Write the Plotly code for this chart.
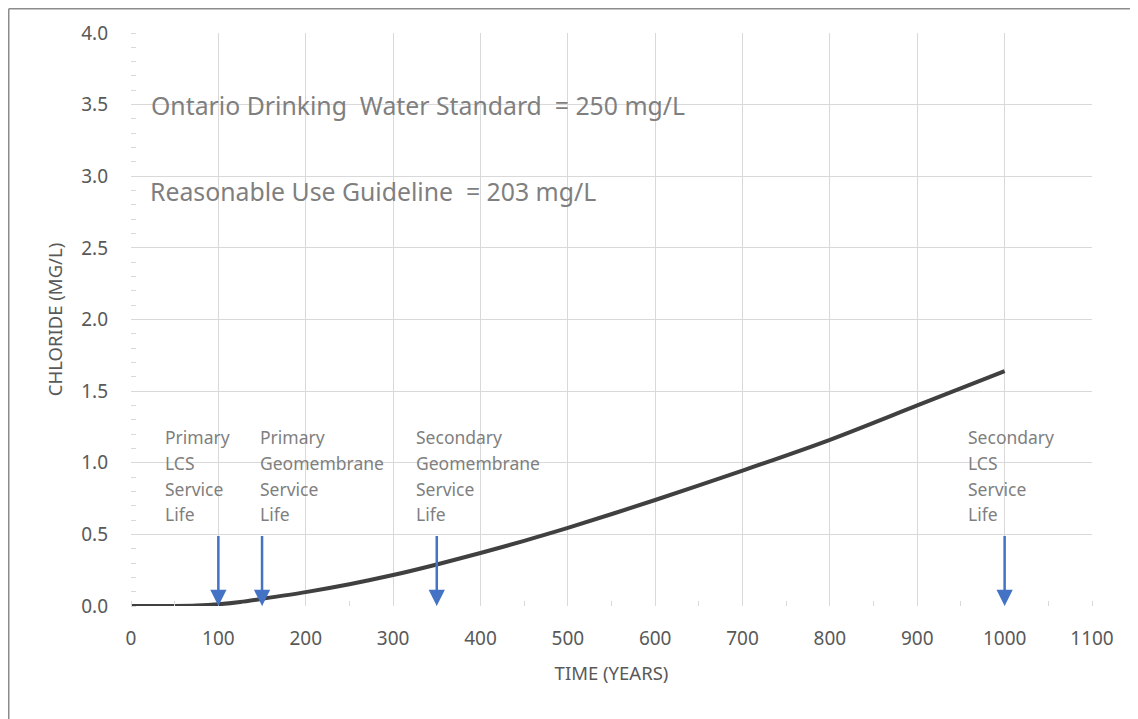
import plotly.graph_objects as go

# ---- data ----
years = [0, 25, 50, 75, 100, 125, 150, 200, 250, 300, 350, 400, 450, 500, 600, 700, 800, 900, 1000]
chloride = [0.0, 0.0, 0.0, 0.003, 0.012, 0.028, 0.05, 0.097, 0.152, 0.216, 0.29, 0.37, 0.455, 0.545, 0.74, 0.945, 1.16, 1.40, 1.64]

arrow_years = [100, 150, 350, 1000]
arrow_top = 0.5
arrow_tip = 0.0
label_lines = [
    ["Primary", "LCS", "Service", "Life"],
    ["Primary", "Geomembrane", "Service", "Life"],
    ["Secondary", "Geomembrane", "Service", "Life"],
    ["Secondary", "LCS", "Service", "Life"],
]
label_x = [37, 145, 324, 956]
line_y = [1.18, 1.0, 0.82, 0.64]

standard_texts = ["Ontario Drinking  Water Standard  = 250 mg/L",
                  "Reasonable Use Guideline  = 203 mg/L"]
standard_pos = [(21, 3.5), (19, 2.9)]

x_ticks = list(range(0, 1101, 100))
y_ticks = [0.0, 0.5, 1.0, 1.5, 2.0, 2.5, 3.0, 3.5, 4.0]

FONT = "Noto Sans"
GRID = "#d9d9d9"
TXT = "#7f7f7f"
TICK = "#595959"
BLUE = "#4472c4"

fig = go.Figure()
fig.add_trace(go.Scatter(x=years, y=chloride, mode="lines",
                         line=dict(color="#404040", width=4, shape="spline", smoothing=0.8),
                         hoverinfo="skip", showlegend=False))

ann = []
for ay, lines, lx in zip(arrow_years, label_lines, label_x):
    ann.append(dict(x=ay, y=arrow_tip, ax=ay, ay=arrow_top, xref="x", yref="y",
                    axref="x", ayref="y", text="", showarrow=True,
                    arrowhead=2, arrowsize=1.3, arrowwidth=2.5, arrowcolor=BLUE, standoff=0))
    for t, yy in zip(lines, line_y):
        ann.append(dict(x=lx, y=yy, xref="x", yref="y", text=t, showarrow=False,
                        xanchor="left", yanchor="middle",
                        font=dict(family=FONT, size=17.5, color=TXT)))
for t, (px, py) in zip(standard_texts, standard_pos):
    ann.append(dict(x=px, y=py, xref="x", yref="y", text=t, showarrow=False,
                    xanchor="left", yanchor="middle",
                    font=dict(family=FONT, size=24.8, color=TXT)))

# page body has an 8px margin; figure sized to the visible window
W, H = 1130, 711
L, R, T, B = 123, 46, 25, 113
pw, ph = W - L - R, H - T - B
bx = (0.75 - L) / pw
by = 1 + (T - 0.75) / ph

fig.update_layout(
    width=W, height=H,
    margin=dict(l=L, r=R, t=T, b=B),
    paper_bgcolor="white", plot_bgcolor="white",
    annotations=ann,
    shapes=[
        dict(type="line", xref="paper", yref="paper",
             x0=bx, x1=bx, y0=-B / ph - 0.05, y1=by,
             line=dict(color="#8c8c8c", width=1.5)),
        dict(type="line", xref="paper", yref="paper",
             x0=bx, x1=1 + R / pw + 0.05, y0=by, y1=by,
             line=dict(color="#8c8c8c", width=1.5)),
    ],
    xaxis=dict(range=[0, 1100], tickvals=x_ticks, showgrid=True, gridcolor=GRID, gridwidth=1,
               zeroline=False, showline=False, ticks="", ticklabelstandoff=19,
               tickfont=dict(family=FONT, size=19, color=TICK),
               minor=dict(dtick=50, ticks="inside", ticklen=5, tickcolor=GRID, showgrid=False),
               title=dict(text="TIME (YEARS)", font=dict(family=FONT, size=18.5, color=TICK), standoff=17)),
    yaxis=dict(range=[0, 4.0], tickvals=y_ticks, tickformat=".1f", showgrid=True, gridcolor=GRID,
               gridwidth=1, zeroline=False, showline=False, ticks="", ticklabelstandoff=22,
               tickfont=dict(family=FONT, size=19, color=TICK),
               minor=dict(dtick=0.1, ticks="inside", ticklen=5, tickcolor=GRID, showgrid=False),
               title=dict(text="CHLORIDE (MG/L)", font=dict(family=FONT, size=18.5, color=TICK), standoff=13)),
)
fig.write_html("out.html")
